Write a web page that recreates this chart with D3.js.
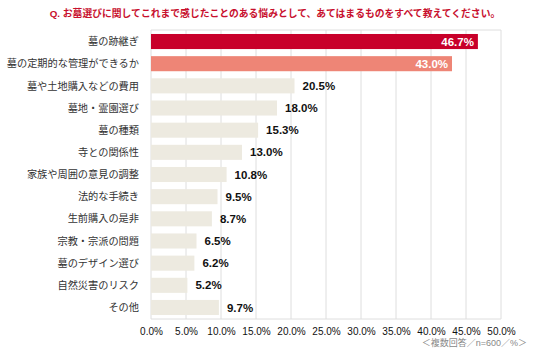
<!DOCTYPE html>
<html>
<head>
<meta charset="utf-8">
<script src="https://cdn.jsdelivr.net/npm/d3@7"></script>
<style>
  body { margin: 0; background: #fff; }
  text { font-family: "Liberation Sans", "Noto Sans CJK JP", sans-serif; }
</style>
</head>
<body>
<div id="chart"></div>
<script>
const categories = [
  "墓の跡継ぎ", "墓の定期的な管理ができるか", "墓や土地購入などの費用", "墓地・霊園選び",
  "墓の種類", "寺との関係性", "家族や周囲の意見の調整", "法的な手続き",
  "生前購入の是非", "宗教・宗派の問題", "墓のデザイン選び", "自然災害のリスク", "その他"
];
const values = [46.7, 43.0, 20.5, 18.0, 15.3, 13.0, 10.8, 9.5, 8.7, 6.5, 6.2, 5.2, 9.7];
const xTicks = [0, 5, 10, 15, 20, 25, 30, 35, 40, 45, 50];
const title = "Q.  お墓選びに関してこれまで感じたことのある悩みとして、あてはまるものをすべて教えてください。";
const note = "＜複数回答／n=600／%＞";

const width = 551, height = 364;
const margin = { top: 30, right: 50, bottom: 45, left: 151 };
const w = 501 - margin.left, h = 319 - margin.top;

const svg = d3.select("#chart").append("svg")
  .attr("width", width).attr("height", height);

svg.append("text")
  .attr("x", 275).attr("y", 17)
  .attr("text-anchor", "middle")
  .attr("fill", "#c8102e")
  .attr("font-size", 9.8)
  .attr("font-weight", "bold")
  .text(title);

const g = svg.append("g").attr("transform", `translate(${margin.left},${margin.top})`);

const x = d3.scaleLinear().domain([0, 50]).range([0, w]);
const y = d3.scaleBand().domain(categories).range([0, h]).paddingInner(0.32).paddingOuter(0.18);

// grid
g.selectAll(".grid").data(xTicks).enter().append("line")
  .attr("x1", d => x(d)).attr("x2", d => x(d))
  .attr("y1", 0).attr("y2", h)
  .attr("stroke", "#dedede").attr("stroke-width", 1);
g.append("line").attr("x1", 0).attr("x2", w).attr("y1", 0).attr("y2", 0).attr("stroke", "#dedede");
g.append("line").attr("x1", 0).attr("x2", w).attr("y1", h).attr("y2", h).attr("stroke", "#dedede");

const colors = ["#c8002a", "#ee8576"];
g.selectAll(".bar").data(values).enter().append("rect")
  .attr("x", 0)
  .attr("y", (d, i) => y(categories[i]))
  .attr("width", d => x(d))
  .attr("height", y.bandwidth())
  .attr("fill", (d, i) => colors[i] || "#edeae0");

// value labels
g.selectAll(".val").data(values).enter().append("text")
  .attr("x", (d, i) => i < 2 ? x(d) - 4 : x(d) + 8)
  .attr("y", (d, i) => y(categories[i]) + y.bandwidth() / 2)
  .attr("dy", "0.36em")
  .attr("text-anchor", (d, i) => i < 2 ? "end" : "start")
  .attr("font-size", 11.5)
  .attr("font-weight", "bold")
  .attr("fill", (d, i) => i < 2 ? "#fff" : "#111")
  .text(d => d.toFixed(1) + "%");

// category labels
g.selectAll(".cat").data(categories).enter().append("text")
  .attr("x", -12)
  .attr("y", d => y(d) + y.bandwidth() / 2)
  .attr("dy", "0.36em")
  .attr("text-anchor", "end")
  .attr("font-size", 10.2)
  .attr("fill", "#333")
  .text(d => d);

// x axis
const xAxis = d3.axisBottom(x).tickValues(xTicks).tickSize(0).tickPadding(9)
  .tickFormat(d => d.toFixed(1) + "%");
const ax = g.append("g").attr("transform", `translate(0,${h})`).call(xAxis);
ax.select(".domain").remove();
ax.selectAll("text").attr("font-size", 10).attr("fill", "#111")
  .style("font-family", "'Liberation Sans', sans-serif");

svg.append("text")
  .attr("x", 527).attr("y", 346)
  .attr("text-anchor", "end")
  .attr("font-size", 9)
  .attr("fill", "#888")
  .text(note);
</script>
</body>
</html>
